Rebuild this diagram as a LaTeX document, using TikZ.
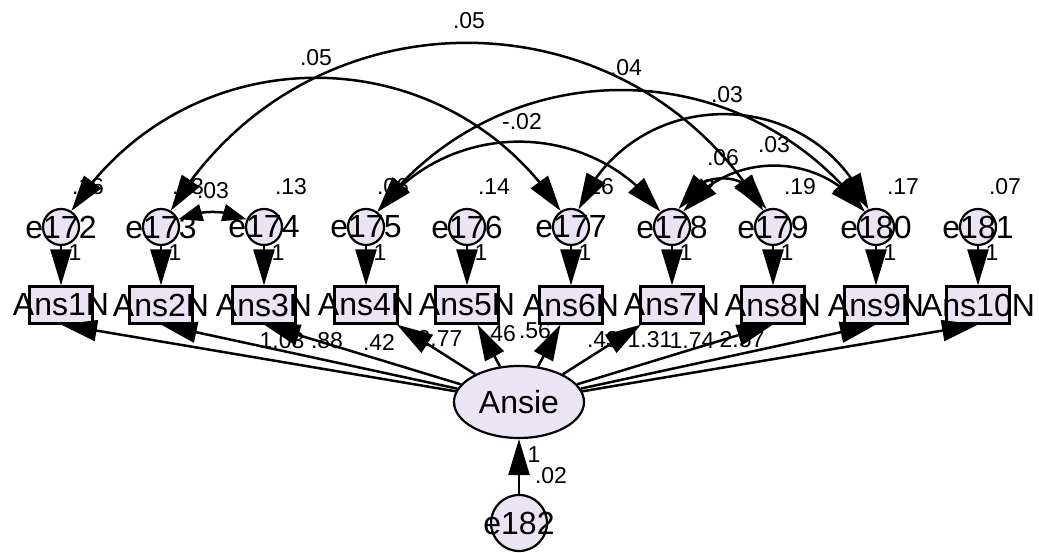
\documentclass[tikz,border=0pt]{standalone}
\usepackage{fontspec}
\setmainfont{Liberation Sans}
\usetikzlibrary{arrows.meta,bending,shapes.geometric}
\definecolor{lav}{RGB}{234,228,244}
\begin{document}
\begin{tikzpicture}[x=1pt,y=1pt,
  >={Triangle[length=36pt,width=21pt]},
  big/.style={font=\fontsize{32}{36}\selectfont, inner sep=0pt},
  small/.style={font=\fontsize{23}{26}\selectfont, inner sep=0pt},
  obs/.style={draw, line width=2.2pt, fill=lav, minimum width=63pt, minimum height=37pt, inner sep=0pt},
  err/.style={draw, circle, line width=2.2pt, fill=lav, minimum size=36pt, inner sep=0pt},
  reg/.style={line width=2.5pt, ->},
  cov/.style={line width=2.5pt, <->},
  covs/.style={line width=2.5pt, {Triangle[length=24pt,width=17pt]}-{Triangle[length=24pt,width=17pt]}},
]
\fill[white] (0,0) rectangle (1039,553);
\useasboundingbox (0,0) rectangle (1039,553);

% observed variables and error terms
\foreach \i/\x/\e/\v in {1/61/172/.16, 2/161/173/.23, 3/264/174/.13, 4/366/175/.06, 5/467/176/.14,
                         6/571/177/.16, 7/672/178/.22, 8/773/179/.19, 9/876/180/.17, 10/978/181/.07}{
  \node[obs] (a\i) at (\x,248) {};
  \node[big] (ta\i) at (a\i) {Ans\i N};
  \node[err] (e\i) at (\x,326) {};
  \node[big] (te\i) at (e\i) {e\e};
  \node[small] (v\i) at (\x+27,366) {\v};
  \node[small] (one\i) at (\x+14,300) {1};
}

% latent variable and its residual
\node[draw, ellipse, line width=2.2pt, fill=lav, minimum width=130pt, minimum height=72pt, inner sep=0pt, font=\fontsize{32}{36}\selectfont] (ansie) at (519,151) {Ansie};
\node[err, minimum size=56pt] (e182) at (519,30) {};
\node[big] (te182) at (e182) {e182};
\node[small] (one182) at (534,98) {1};
\node[small] (v182) at (551,77) {.02};

% loading labels
\node[small] (l1) at (282,212) {1.03};
\node[small] (l2) at (327,212) {.88};
\node[small] (l3) at (379,211) {.42};
\node[small] (l4) at (440,215) {2.77};
\node[small] (l5) at (500,219) {.46};
\node[small] (l6) at (535,222) {.56};
\node[small] (l7) at (603,213) {.43};
\node[small] (l8) at (650,213) {1.31};
\node[small] (l9) at (692,212) {1.74};
\node[small] (l10) at (742,213) {2.57};

% covariance labels
\node[small] (cA) at (213,362) {.03};
\node[small] (cB) at (316,495) {.05};
\node[small] (cC) at (469,532) {.05};
\node[small] (cD) at (626,485) {.04};
\node[small] (cE) at (522,431) {-.02};
\node[small] (cF) at (727,458) {.03};
\node[small] (cG) at (723,395) {.06};
\node[small] (cH) at (774,408) {.03};

% error -> observed
\foreach \i in {1,...,10}{
  \draw[reg] (e\i) -- (a\i);
}
% latent -> observed
\draw[reg] (ansie) -- (a1.south);
\draw[reg] (ansie) -- (a2.south);
\draw[reg] (ansie) -- (a3.south);
\draw[reg] (ansie) -- (a4);
\draw[reg] (ansie) -- (a5);
\draw[reg] (ansie) -- (a6);
\draw[reg] (ansie) -- (a7);
\draw[reg] (ansie) -- (a8.south);
\draw[reg] (ansie) -- (a9.south);
\draw[reg] (ansie) -- (a10.south);
\draw[reg] (e182) -- (ansie);

% covariances
\draw[covs] (e2) to[out=24,in=156,looseness=0.9] (e3);
\draw[cov] (e1) to[out=57,in=123,looseness=1.11] (e6);
\draw[cov] (e2) to[out=59,in=121,looseness=1.13] (e8);
\draw[cov] (e4) to[out=53,in=127,looseness=1.07] (e9);
\draw[cov] (e4) to[out=53,in=127,looseness=1.06] (e7);
\draw[cov] (e6) to[out=67,in=113,looseness=1.22] (e9);
\draw[cov] (e7) to[out=70,in=110,looseness=1.27] (e8);
\draw[cov] (e7) to[out=54,in=126,looseness=1.07] (e9);
\end{tikzpicture}
\end{document}
